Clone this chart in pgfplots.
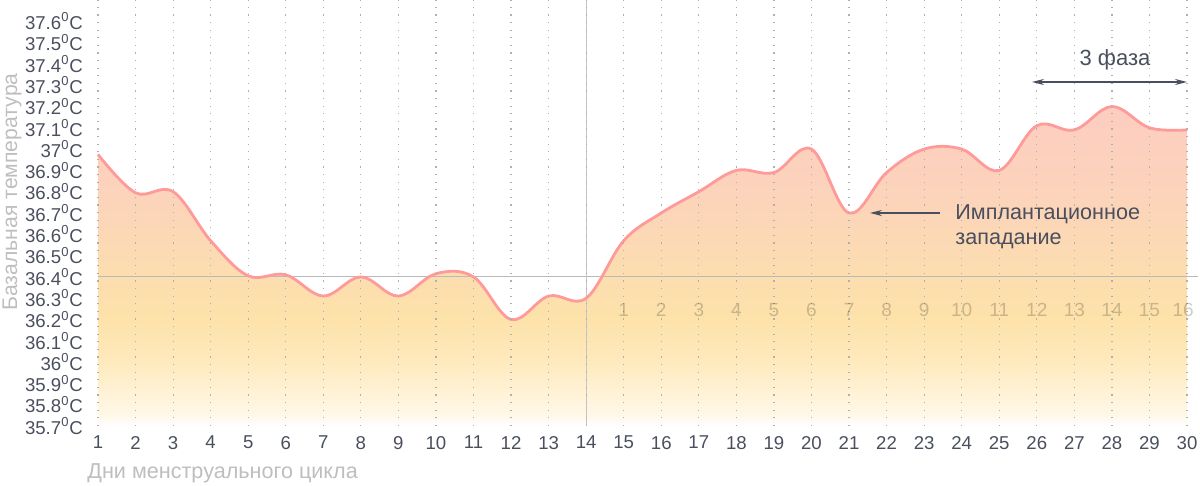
\documentclass[border=0pt]{standalone}
\usepackage{pgfplots}
\pgfplotsset{compat=1.18}
\usetikzlibrary{arrows.meta}
\usepackage{fontspec}
\setmainfont{Liberation Sans}
\definecolor{txt}{RGB}{74,79,94}
\definecolor{lgray}{RGB}{190,190,190}
\definecolor{curve}{RGB}{255,154,154}
\definecolor{gridc}{RGB}{175,175,175}
\definecolor{fa}{RGB}{255,248,232}
\definecolor{fb}{RGB}{254,234,190}
\definecolor{fc}{RGB}{253,226,170}
\definecolor{fd}{RGB}{252,219,178}
\definecolor{fe}{RGB}{252,211,187}
\definecolor{ff}{RGB}{252,205,192}
\pgfdeclareverticalshading{tempfill}{100bp}{color(0bp)=(white); color(25bp)=(white); color(26.7bp)=(fa); color(34.9bp)=(fb); color(41.6bp)=(fc); color(51.5bp)=(fd); color(61.4bp)=(fe); color(75bp)=(ff); color(100bp)=(ff)}
\pgfplotstableread{
x y
1 36.975
2 36.795
3 36.80
4 36.57
5 36.405
6 36.41
7 36.31
8 36.40
9 36.31
10 36.415
11 36.40
12 36.20
13 36.31
14 36.30
15 36.57
16 36.70
17 36.80
18 36.90
19 36.89
20 37.00
21 36.70
22 36.89
23 37.00
24 37.00
25 36.90
26 37.11
27 37.09
28 37.20
29 37.10
30 37.09
}\temps
\begin{document}
\begin{tikzpicture}
\useasboundingbox (-49pt,-30pt) rectangle (551pt,213pt);
\begin{axis}[
  scale only axis, width=544.5pt, height=213pt,
  xmin=1, xmax=30, ymin=35.7, ymax=37.7,
  axis line style={draw=none},
  major tick length=0pt,
  axis on top,
  xtick={1,...,30},
  ytick={35.7,35.8,...,37.65},
  yticklabels={35.7\textsuperscript{0}C,35.8\textsuperscript{0}C,35.9\textsuperscript{0}C,36\textsuperscript{0}C,36.1\textsuperscript{0}C,36.2\textsuperscript{0}C,36.3\textsuperscript{0}C,36.4\textsuperscript{0}C,36.5\textsuperscript{0}C,36.6\textsuperscript{0}C,36.7\textsuperscript{0}C,36.8\textsuperscript{0}C,36.9\textsuperscript{0}C,37\textsuperscript{0}C,37.1\textsuperscript{0}C,37.2\textsuperscript{0}C,37.3\textsuperscript{0}C,37.4\textsuperscript{0}C,37.5\textsuperscript{0}C,37.6\textsuperscript{0}C},
  xticklabels={1,2,3,4,5,6,7,8,9,10,11,12,13,14,15,16,17,18,19,20,21,22,23,24,25,26,27,28,29,30},
  ticklabel style={font=\fontsize{9.3}{10}\selectfont, text=txt},
  yticklabel style={xshift=-4pt},
  xticklabel style={yshift=-1.5pt},
  xmajorgrids,
  major x grid style={gridc, line width=0.6pt, dash pattern=on 0.6pt off 3.2pt},
  clip=false,
]
\addplot[shading=tempfill, draw=none, smooth, tension=0.6, forget plot] table[x=x,y=y]{\temps} -- (axis cs:30,35.7) -- (axis cs:1,35.7) -- cycle;
\addplot[gray!55, line width=0.6pt] coordinates {(1,36.4) (30.3,36.4)};
\addplot[gray!45, line width=0.6pt] coordinates {(14,35.7) (14,37.72)};
\addplot[curve, line width=1.4pt, smooth, tension=0.6] table[x=x,y=y]{\temps};
\addplot[draw=none, mark=none, nodes near coords, point meta=explicit symbolic,
  every node near coord/.style={anchor=center, font=\fontsize{9.5}{10}\selectfont, text=black, text opacity=0.2}]
  coordinates {(15,36.245)[1] (16,36.245)[2] (17,36.245)[3] (18,36.245)[4] (19,36.245)[5] (20,36.245)[6] (21,36.245)[7] (22,36.245)[8] (23,36.245)[9] (24,36.245)[10] (25,36.245)[11] (26,36.245)[12] (27,36.245)[13] (28,36.245)[14] (29,36.245)[15] (29.9,36.245)[16]};
\end{axis}
\node[rotate=90, text=lgray, font=\fontsize{10.6}{12}\selectfont] at (-43pt,117pt) {Базальная температура};
\node[anchor=west, text=lgray, font=\fontsize{10.8}{12}\selectfont, inner sep=0pt] at (-5.5pt,-23.5pt) {Дни менструального цикла};
\node[text=txt, font=\fontsize{11}{12}\selectfont] at (508.5pt,183pt) {3 фаза};
\draw[txt, line width=0.6pt, {Stealth[length=6pt,width=3pt]}-{Stealth[length=6pt,width=3pt]}] (467pt,172pt) -- (544.5pt,172pt);
\node[anchor=west, align=left, text=txt, font=\fontsize{10.8}{12.5}\selectfont, inner sep=0pt] at (428.5pt,99.5pt) {Имплантационное\\западание};
\draw[txt, line width=0.6pt, -{Stealth[length=6pt,width=3pt]}] (421pt,106.5pt) -- (386pt,106.5pt);
\end{tikzpicture}
\end{document}
